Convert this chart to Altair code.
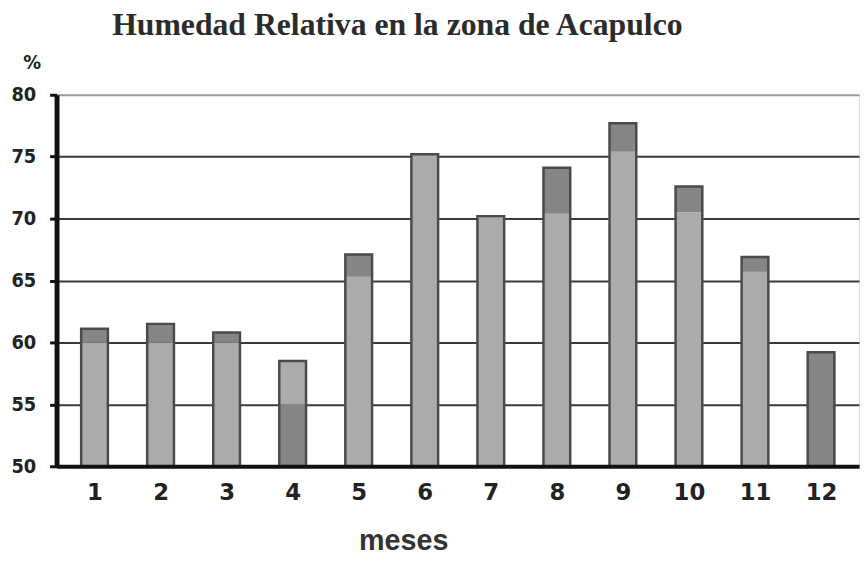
import altair as alt
import pandas as pd

# --- data ---
meses = [1, 2, 3, 4, 5, 6, 7, 8, 9, 10, 11, 12]
humedad = [61.1, 61.5, 60.8, 58.5, 67.1, 75.2, 70.2, 74.1, 77.7, 72.6, 66.9, 59.2]
corte = [60.0, 60.0, 60.0, 55.0, 65.3, 75.2, 70.2, 70.4, 75.4, 70.5, 65.7, 55.2]
tono_inferior = ["claro", "claro", "claro", "oscuro", "claro", "claro",
                 "claro", "claro", "claro", "claro", "claro", "oscuro"]
tono_superior = ["oscuro", "oscuro", "oscuro", "claro", "oscuro", "oscuro",
                 "oscuro", "oscuro", "oscuro", "oscuro", "oscuro", "oscuro"]
y_ticks = [50, 55, 60, 65, 70, 75, 80]
x_values = [1, 1.5, 2, 2.5, 3, 3.5, 4, 4.5, 5, 5.5, 6, 6.5, 7, 7.5, 8, 8.5,
            9, 9.5, 10, 10.5, 11, 11.5, 12]

BASE = 50

rows = []
for m, h, c, ti, ts in zip(meses, humedad, corte, tono_inferior, tono_superior):
    rows.append({"mes": m, "ini": BASE, "fin": c, "tono": ti})
    if h > c:
        rows.append({"mes": m, "ini": c, "fin": h, "tono": ts})
seg = pd.DataFrame(rows)
tot = pd.DataFrame({"mes": meses, "humedad": humedad})

x_scale = alt.Scale(domain=[0.5, 12.5], nice=False, zero=False)
y_scale = alt.Scale(domain=[50, 80], nice=False, zero=False)

x_axis = alt.Axis(
    values=x_values,
    labelExpr="datum.value % 1 == 0 ? datum.value : ''",
    labelFont="DejaVu Sans",
    labelFontWeight="bold",
    labelFontSize=23,
    labelColor="#222222",
    labelPadding=16,
    ticks=True,
    tickSize={"condition": {"test": "datum.value % 1 == 0", "value": 0}, "value": 6},
    tickWidth=4,
    tickColor="#222222",
    domainColor="#111111",
    domainWidth=4,
    grid=False,
    zindex=1,
    title="meses",
    titleFont="Liberation Sans",
    titleFontSize=29,
    titleFontWeight="bold",
    titleColor="#333333",
    titleX=350,
    titleY=84,
    titleAlign="center",
    titleBaseline="alphabetic",
)

y_axis = alt.Axis(
    values=y_ticks,
    grid=True,
    gridColor={"condition": {"test": "datum.value == 80", "value": "#9a9a9a"},
               "value": "#3a3a3a"},
    gridWidth=2,
    domainColor="#111111",
    domainWidth=5,
    tickColor="#111111",
    tickSize=7,
    tickWidth=3,
    labelFont="DejaVu Sans Condensed",
    labelFontWeight="bold",
    labelFontSize=20,
    labelColor="#222222",
    labelPadding=14,
    title="%",
    titleAngle=0,
    titleX=-25,
    titleY=-33,
    titleAlign="center",
    titleBaseline="middle",
    titleFont="DejaVu Sans Condensed",
    titleFontWeight="bold",
    titleFontSize=20,
    titleColor="#222222",
)

segmentos = alt.Chart(seg).mark_bar(size=27).encode(
    x=alt.X("mes:Q", scale=x_scale, axis=x_axis),
    y=alt.Y("fin:Q", scale=y_scale, axis=y_axis),
    y2=alt.Y2("ini:Q"),
    color=alt.Color(
        "tono:N",
        scale=alt.Scale(domain=["claro", "oscuro"], range=["#ababab", "#858585"]),
        legend=None,
    ),
)

contorno = alt.Chart(tot).mark_bar(
    size=27, fillOpacity=0, stroke="#4a4a4a", strokeWidth=2.5
).encode(
    x=alt.X("mes:Q", scale=x_scale),
    y=alt.Y("humedad:Q", scale=y_scale),
    y2=alt.datum(BASE),
)

chart = alt.layer(segmentos, contorno).properties(
    width=810,
    height=375,
    autosize="none",
    padding={"left": 49, "top": 85, "right": 1, "bottom": 90},
    title=alt.TitleParams(
        text="Humedad Relativa en la zona de Acapulco",
        font="Liberation Serif",
        fontSize=32,
        fontWeight="bold",
        color="#2b2b2b",
        anchor="middle",
        dx=-61,
        dy=25,
        baseline="alphabetic",
        offset=10,
    ),
).configure_view(stroke=None).configure(background="white")

chart.save("out.html", embed_options={"renderer": "svg", "actions": False})
